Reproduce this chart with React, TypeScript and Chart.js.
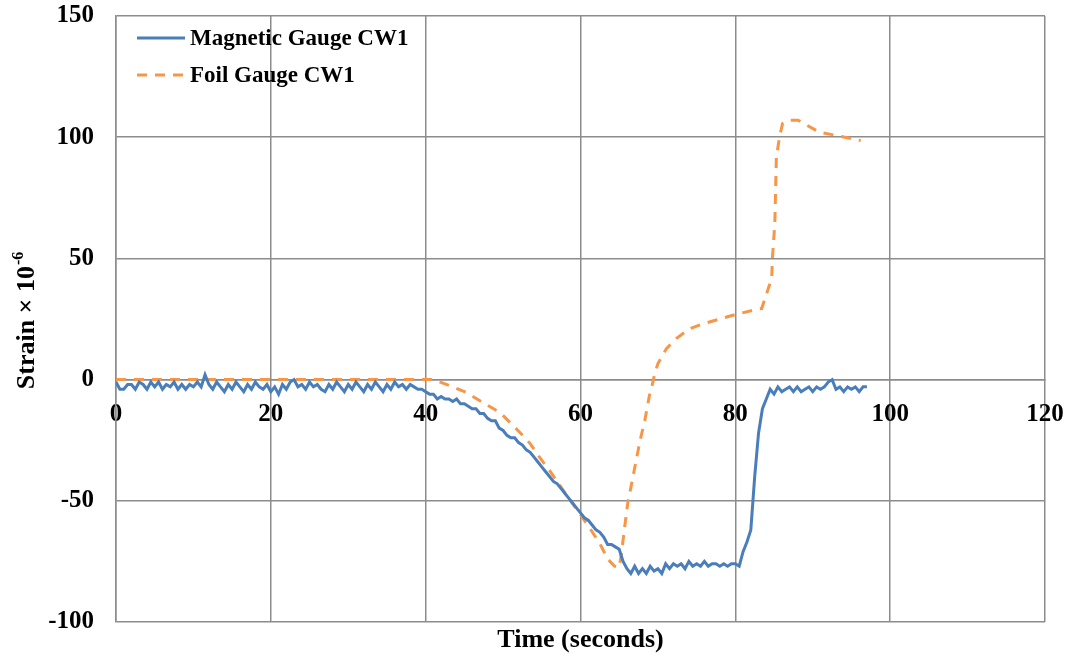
import React, { useEffect, useRef } from "react";
import { Chart, registerables } from "chart.js";

Chart.register(...registerables);

// ---- data ----
const magneticTime = [
  0, 0.5, 1, 1.5, 2, 2.5, 3, 3.5, 4, 4.5, 5, 5.5, 6, 6.5, 7, 7.5, 8, 8.5, 9, 9.5,
  10, 10.5, 11, 11.5, 12, 12.5, 13, 13.5, 14, 14.5, 15, 15.5, 16, 16.5, 17, 17.5, 18, 18.5, 19, 19.5,
  20, 20.5, 21, 21.5, 22, 22.5, 23, 23.5, 24, 24.5, 25, 25.5, 26, 26.5, 27, 27.5, 28, 28.5, 29, 29.5,
  30, 30.5, 31, 31.5, 32, 32.5, 33, 33.5, 34, 34.5, 35, 35.5, 36, 36.5, 37, 37.5, 38, 38.5, 39, 39.5,
  40, 40.5, 41, 41.5, 42, 42.5, 43, 43.5, 44, 44.5, 45, 45.5, 46, 46.5, 47, 47.5, 48, 48.5, 49, 49.5,
  50, 50.5, 51, 51.5, 52, 52.5, 53, 53.5, 54, 54.5, 55, 55.5, 56, 56.5, 57, 57.5, 58, 58.5, 59, 59.5,
  60, 60.5, 61, 61.5, 62, 62.5, 63, 63.5, 64, 64.5, 65, 65.5, 66, 66.5, 67, 67.5, 68, 68.5, 69, 69.5,
  70, 70.5, 71, 71.5, 72, 72.5, 73, 73.5, 74, 74.5, 75, 75.5, 76, 76.5, 77, 77.5, 78, 78.5, 79, 79.5,
  80, 80.5, 81, 81.5, 82, 82.5, 83, 83.5, 84, 84.5, 85, 85.5, 86, 86.5, 87, 87.5, 88, 88.5, 89, 89.5,
  90, 90.5, 91, 91.5, 92, 92.5, 93, 93.5, 94, 94.5, 95, 95.5, 96, 96.5, 97,
];
const magneticStrain = [
  -1, -4, -4, -2, -2, -4, -1, -2, -4, -1, -3, -1, -4, -2, -3, -1, -4, -2, -4, -2,
  -3, -1, -3, 2, -2, -4, -1, -3, -5, -2, -4, -1, -3, -5, -2, -4, -1, -3, -4, -2,
  -5, -3, -6, -2, -4, -1, 0, -3, -2, -4, -1, -3, -2, -4, -5, -2, -4, -1, -3, -5,
  -2, -4, -1, -3, -5, -2, -4, -1, -3, -5, -2, -4, -1, -3, -2, -4, -2, -3, -4, -4,
  -5, -6, -6, -8, -7, -8, -8, -9, -8, -10, -10, -11, -12, -12, -14, -14, -16, -17, -17, -20,
  -21, -23, -24, -24, -26, -27, -29, -30, -32, -34, -36, -38, -40, -42, -43, -45, -47, -49, -51, -53,
  -55, -57, -58, -60, -62, -63, -65, -68, -68, -69, -70, -75, -78, -80, -77, -80, -78, -80, -77, -79,
  -78, -80, -76, -78, -76, -77, -76, -78, -75, -77, -76, -77, -75, -77, -76, -76, -77, -76, -77, -76,
  -76, -77, -71, -67, -62, -40, -22, -12, -8, -4, -6, -3, -5, -4, -3, -5, -3, -5, -4, -3,
  -5, -3, -4, -3, -1, 0, -4, -3, -5, -3, -4, -3, -5, -3, -3,
];
const foilTime = [
  0, 10, 20, 30, 38, 41, 43.1, 45.3, 47.4, 49.6, 50.9, 52.2, 53.5, 54.7, 56, 57.3, 58.6, 59.9,
  61.2, 62.5, 63.5, 64.4, 65, 65.3, 65.7, 66.1, 66.6, 67.7, 68.3, 68.9, 69.2, 69.6, 70, 71.1,
  72.4, 74.1, 75.8, 78, 80.2, 82.8, 83.4, 84.2, 84.7, 84.8, 85.1, 85.2, 85.3, 85.7, 86.1, 87,
  88.1, 89.2, 90.9, 93.1, 95.7, 96.2,
];
const foilStrain = [
  0, 0, 0, 0, 0, 0, -2.5, -5.4, -9.5, -13.6, -17.7, -21.9, -26.4, -32, -37.5, -43.5, -49.5, -55.3,
  -61.3, -67.6, -74, -77, -77.5, -71.5, -61, -51, -43, -25, -17, -6.6, -3, 2.5, 6.6, 12.8,
  17, 21, 23, 25, 27, 29, 29.3, 37, 42, 50.5, 64.5, 78, 91.6, 100, 105.6, 107,
  107, 105, 102, 100.7, 99, 98.6,
];
const seriesLabels = ["Magnetic Gauge CW1", "Foil Gauge CW1"];
const xTickValues = [0, 20, 40, 60, 80, 100, 120];
const yTickValues = [-100, -50, 0, 50, 100, 150];
const xTitle = "Time (seconds)";
const yTitleMain = "Strain × 10";
const yTitleSup = "-6";

// ---- styles ----
const FONT = "'Times New Roman', 'Liberation Serif', serif";
const BLUE = "#4A7EBB";
const ORANGE = "#F79646";
const GRID = "#8C8C8C";

const titlesPlugin = {
  id: "axisTitles",
  afterDraw(chart: any) {
    const { ctx, chartArea } = chart;
    ctx.save();
    ctx.fillStyle = "#000";
    ctx.font = `bold 26px ${FONT}`;
    ctx.textAlign = "center";
    ctx.textBaseline = "middle";
    ctx.fillText(xTitle, (chartArea.left + chartArea.right) / 2, 640);

    ctx.translate(34, (chartArea.top + chartArea.bottom) / 2 + 2);
    ctx.rotate(-Math.PI / 2);
    ctx.font = `bold 26px ${FONT}`;
    const w1 = ctx.measureText(yTitleMain).width;
    ctx.font = `bold 16px ${FONT}`;
    const w2 = ctx.measureText(yTitleSup).width;
    const start = -(w1 + w2) / 2;
    ctx.textAlign = "left";
    ctx.textBaseline = "alphabetic";
    ctx.font = `bold 26px ${FONT}`;
    ctx.fillText(yTitleMain, start, 0);
    ctx.font = `bold 16px ${FONT}`;
    ctx.fillText(yTitleSup, start + w1 + 1, -11);
    ctx.restore();
  },
};

const legendPlugin = {
  id: "insideLegend",
  afterDraw(chart: any) {
    const { ctx, chartArea } = chart;
    const rows = [chartArea.top + 22, chartArea.top + 59];
    ctx.save();
    chart.data.datasets.forEach((ds: any, i: number) => {
      const y = rows[i];
      ctx.strokeStyle = ds.borderColor;
      ctx.lineWidth = ds.borderWidth;
      ctx.setLineDash(ds.borderDash || []);
      ctx.beginPath();
      ctx.moveTo(chartArea.left + 21, y);
      ctx.lineTo(chartArea.left + 69, y);
      ctx.stroke();
      ctx.setLineDash([]);
      ctx.fillStyle = "#000";
      ctx.font = `bold 23px ${FONT}`;
      ctx.textAlign = "left";
      ctx.textBaseline = "middle";
      ctx.fillText(ds.label, chartArea.left + 74, y + 1);
    });
    ctx.restore();
  },
};

const zeroPadding = (scale: any) => {
  scale.paddingTop = 0;
  scale.paddingBottom = 0;
  scale.paddingLeft = 0;
  scale.paddingRight = 0;
};

export default function App() {
  const canvasRef = useRef<HTMLCanvasElement | null>(null);

  useEffect(() => {
    if (!canvasRef.current) return;
    const chart = new Chart(canvasRef.current, {
      type: "line",
      data: {
        datasets: [
          {
            label: seriesLabels[0],
            data: magneticTime.map((t, i) => ({ x: t, y: magneticStrain[i] })),
            borderColor: BLUE,
            backgroundColor: BLUE,
            borderWidth: 3,
            pointRadius: 0,
            tension: 0,
          },
          {
            label: seriesLabels[1],
            data: foilTime.map((t, i) => ({ x: t, y: foilStrain[i] })),
            borderColor: ORANGE,
            backgroundColor: ORANGE,
            borderWidth: 3,
            borderDash: [10, 8],
            pointRadius: 0,
            tension: 0,
          },
        ],
      },
      options: {
        animation: false,
        responsive: false,
        maintainAspectRatio: false,
        layout: { padding: { top: 16, right: 28, bottom: 37, left: 0 } },
        plugins: {
          legend: { display: false },
          tooltip: { enabled: false },
        },
        scales: {
          x: {
            type: "linear",
            min: 0,
            max: 120,
            position: { y: 0 } as any,
            afterFit: zeroPadding,
            afterBuildTicks: (scale: any) => {
              scale.ticks = xTickValues.map((v) => ({ value: v }));
            },
            grid: { color: GRID, lineWidth: 1.5, drawTicks: false },
            border: { color: GRID, width: 1.5 },
            ticks: {
              color: "#000",
              padding: 20,
              maxRotation: 0,
              font: { family: FONT, size: 25, weight: "bold" },
            },
          },
          y: {
            type: "linear",
            min: -100,
            max: 150,
            position: "left",
            afterFit: (scale: any) => {
              scale.width = 116;
              zeroPadding(scale);
            },
            afterBuildTicks: (scale: any) => {
              scale.ticks = yTickValues.map((v) => ({ value: v }));
            },
            grid: { color: GRID, lineWidth: 1.5, drawTicks: false },
            border: { color: GRID, width: 1.5 },
            ticks: {
              color: "#000",
              padding: 22,
              font: { family: FONT, size: 25, weight: "bold" },
            },
          },
        },
      },
      plugins: [titlesPlugin, legendPlugin],
    });
    return () => chart.destroy();
  }, []);

  return (
    <div style={{ position: "fixed", left: 0, top: 0, width: 1073, height: 659, background: "#fff" }}>
      <canvas ref={canvasRef} width={1073} height={659} style={{ width: 1073, height: 659 }} />
    </div>
  );
}
